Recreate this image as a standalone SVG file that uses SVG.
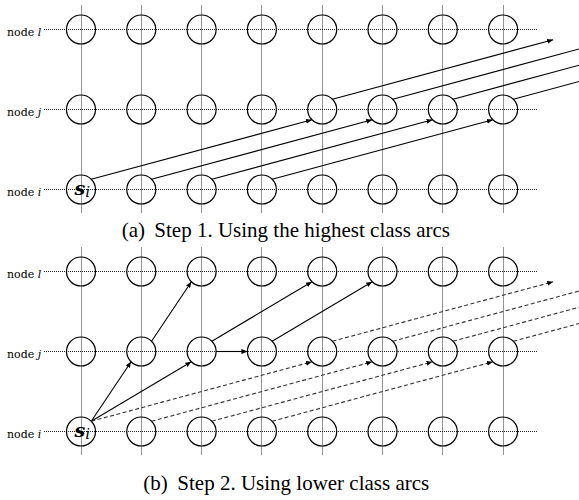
<svg xmlns="http://www.w3.org/2000/svg" width="579" height="500" viewBox="0 0 579 500">
<style>
.grid{stroke:#000;stroke-width:1;stroke-dasharray:1 1;fill:none;opacity:0.85}
.node{fill:none;stroke:#000;stroke-width:1.2}
.arc{stroke:#000;stroke-width:1.1;fill:none}
.dash{stroke:#333;stroke-width:1.1;fill:none;stroke-dasharray:4 2.5}
.lab{font-family:"DejaVu Serif",serif;font-size:11px;fill:#000}
.cap{font-family:"Liberation Serif","Times New Roman",serif;font-size:21px;fill:#000}
.s{font-family:"DejaVu Serif",serif;font-weight:bold;font-style:italic;font-size:19px;fill:#000}
</style>
<defs>
<marker id="ah" viewBox="0 0 10 10" refX="10" refY="5" markerWidth="6" markerHeight="6" markerUnits="userSpaceOnUse" orient="auto">
<path d="M0,1 L10,5 L0,9 z" fill="#000" stroke="none"/>
</marker>
<g id="gridpanel">
<path class="grid" d="M81.5,-24V184M141.5,-24V184M201.5,-24V184M261.5,-24V184M322.5,-24V184M382.5,-24V184M442.5,-24V184M503.5,-24V184M44,0H537M44,80H537M44,160H537"/>
</g>
<g id="circles">
<circle class="node" cx="81" cy="0" r="14.5"/><circle class="node" cx="141.3" cy="0" r="14.5"/><circle class="node" cx="201.6" cy="0" r="14.5"/><circle class="node" cx="261.9" cy="0" r="14.5"/><circle class="node" cx="322.2" cy="0" r="14.5"/><circle class="node" cx="382.5" cy="0" r="14.5"/><circle class="node" cx="442.8" cy="0" r="14.5"/><circle class="node" cx="503.1" cy="0" r="14.5"/>
</g>
</defs>

<!-- Panel (a) -->
<g id="panel-a">
<use href="#gridpanel" transform="translate(0,29.5)"/>
<g id="a-row-l"><use href="#circles" transform="translate(0,29.5)"/></g>
<g id="a-row-j"><use href="#circles" transform="translate(0,109.5)"/></g>
<g id="a-row-i"><use href="#circles" transform="translate(0,189.5)"/></g>
<text class="lab" x="7" y="35.5">node <tspan font-style="italic">l</tspan></text>
<text class="lab" x="7" y="115.5">node <tspan font-style="italic">j</tspan></text>
<text class="lab" x="7" y="195.5">node <tspan font-style="italic">i</tspan></text>
<g id="a-si"><text class="s" x="74.5" y="195">s<tspan font-size="15" dy="2" font-weight="normal">i</tspan></text></g>
<g id="a-connectors">
<line class="arc" x1="91.25" y1="179.25" x2="311.95" y2="119.75" marker-end="url(#ah)"/>
<line class="arc" x1="151.55" y1="179.25" x2="372.25" y2="119.75" marker-end="url(#ah)"/>
<line class="arc" x1="211.85" y1="179.25" x2="432.55" y2="119.75" marker-end="url(#ah)"/>
<line class="arc" x1="272.15" y1="179.25" x2="492.85" y2="119.75" marker-end="url(#ah)"/>
<line class="arc" x1="332.45" y1="99.25" x2="553.15" y2="39.75" marker-end="url(#ah)"/>
<line class="arc" x1="392.75" y1="99.25" x2="613.45" y2="39.75"/>
<line class="arc" x1="453.05" y1="99.25" x2="673.75" y2="39.75"/>
<line class="arc" x1="513.35" y1="99.25" x2="734.05" y2="39.75"/>
</g>
<text class="cap" x="121.7" y="236.7">(a)</text>
<text class="cap" x="154.3" y="236.7">Step 1. Using the highest class arcs</text>
</g>

<!-- Panel (b) -->
<g id="panel-b">
<use href="#gridpanel" transform="translate(0,271.5)"/>
<g id="b-row-l"><use href="#circles" transform="translate(0,271.5)"/></g>
<g id="b-row-j"><use href="#circles" transform="translate(0,351.5)"/></g>
<g id="b-row-i"><use href="#circles" transform="translate(0,431.5)"/></g>
<text class="lab" x="7" y="277.5">node <tspan font-style="italic">l</tspan></text>
<text class="lab" x="7" y="357.5">node <tspan font-style="italic">j</tspan></text>
<text class="lab" x="7" y="437.5">node <tspan font-style="italic">i</tspan></text>
<g id="b-si"><text class="s" x="74.5" y="437">s<tspan font-size="15" dy="2" font-weight="normal">i</tspan></text></g>
<g id="b-connectors">
<line class="arc" x1="91.25" y1="421.25" x2="131.05" y2="361.75" marker-end="url(#ah)"/>
<line class="arc" x1="151.55" y1="341.25" x2="191.35" y2="281.75" marker-end="url(#ah)"/>
<line class="arc" x1="91.25" y1="421.25" x2="191.35" y2="361.75" marker-end="url(#ah)"/>
<line class="arc" x1="216.1" y1="351.5" x2="247.4" y2="351.5" marker-end="url(#ah)"/>
<line class="arc" x1="211.85" y1="341.25" x2="311.95" y2="281.75" marker-end="url(#ah)"/>
<line class="arc" x1="272.15" y1="341.25" x2="372.25" y2="281.75" marker-end="url(#ah)"/>
<line class="dash" x1="91.25" y1="421.25" x2="311.95" y2="361.75" marker-end="url(#ah)"/>
<line class="dash" x1="151.55" y1="421.25" x2="372.25" y2="361.75" marker-end="url(#ah)"/>
<line class="dash" x1="211.85" y1="421.25" x2="432.55" y2="361.75" marker-end="url(#ah)"/>
<line class="dash" x1="272.15" y1="421.25" x2="492.85" y2="361.75" marker-end="url(#ah)"/>
<line class="dash" x1="332.45" y1="341.25" x2="553.15" y2="281.75" marker-end="url(#ah)"/>
<line class="dash" x1="392.75" y1="341.25" x2="613.45" y2="281.75"/>
<line class="dash" x1="453.05" y1="341.25" x2="673.75" y2="281.75"/>
<line class="dash" x1="513.35" y1="341.25" x2="734.05" y2="281.75"/>
</g>
<text class="cap" x="143.3" y="490">(b)</text>
<text class="cap" x="177.3" y="490">Step 2. Using lower class arcs</text>
</g>
</svg>
